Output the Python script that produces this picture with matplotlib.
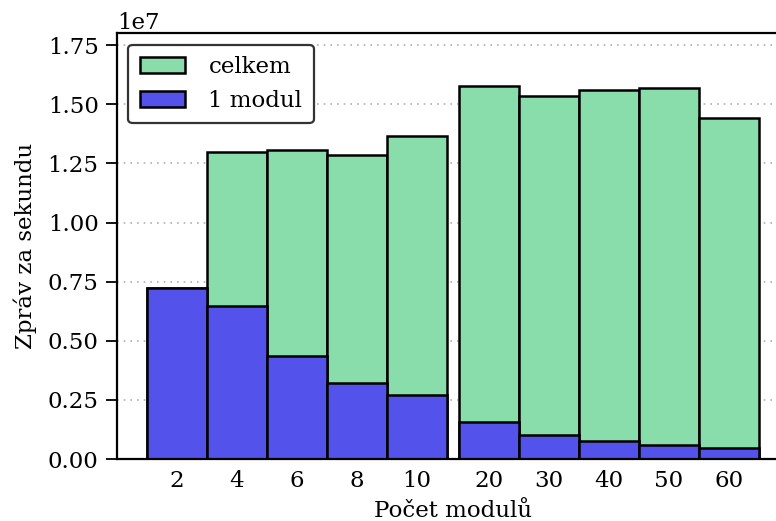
import matplotlib
matplotlib.use("Agg")
import matplotlib.pyplot as plt
import numpy as np

plt.rcParams['font.family'] = ['DejaVu Serif']

modules = ["2", "4", "6", "8", "10", "20", "30", "40", "50", "60"]
total = [7.23e6, 12.98e6, 13.05e6, 12.87e6, 13.64e6, 15.77e6, 15.33e6, 15.61e6, 15.70e6, 14.41e6]
single = [7.23e6, 6.48e6, 4.35e6, 3.23e6, 2.72e6, 1.57e6, 1.01e6, 0.77e6, 0.59e6, 0.45e6]

# small gap between the first group (2-10) and the second (20-60)
pos = np.array([0, 1, 2, 3, 4, 5.2, 6.2, 7.2, 8.2, 9.2])

green = "#89DDAA"
blue = "#5353EB"

fig = plt.figure(figsize=(7.76, 5.21), dpi=100)
ax = fig.add_axes([0.1504, 0.119, 0.866, 0.817])

ax.set_axisbelow(True)
ax.yaxis.grid(True, linestyle=(0, (1, 3)), color="#b0b0b0", linewidth=1.2)

ax.bar(pos, total, width=1.0, color=green, edgecolor="black", linewidth=1.8, label="celkem")
ax.bar(pos, single, width=1.0, color=blue, edgecolor="black", linewidth=1.8, label="1 modul")

ax.set_xlim(-1, 10.2)
ax.set_ylim(0, 1.8e7)
ax.set_xticks(pos)
ax.set_xticklabels(modules)
ax.set_yticks(np.arange(0, 1.76e7, 0.25e7))
ax.tick_params(axis="x", length=0, labelsize=16.5, pad=8)
ax.tick_params(axis="y", length=8, width=1.3, labelsize=16.5, pad=5)
ax.yaxis.get_offset_text().set_fontsize(16.5)

for s in ax.spines.values():
    s.set_linewidth(1.6)

ax.set_xlabel("Počet modulů", fontsize=16.5, labelpad=6)
ax.set_ylabel("Zpráv za sekundu", fontsize=16.5, labelpad=8)

leg = ax.legend(loc="upper left", fontsize=16.5, frameon=True, fancybox=True,
                edgecolor="#333333", framealpha=1.0, handlelength=2.0,
                handletextpad=1.0, borderpad=0.5)
leg.get_frame().set_linewidth(1.6)

fig.savefig("out.png", dpi=100)
